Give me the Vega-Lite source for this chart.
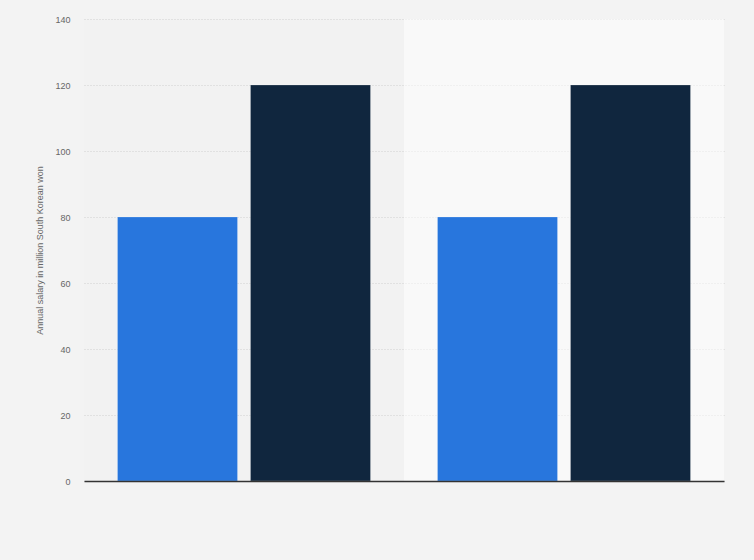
{
  "$schema": "https://vega.github.io/schema/vega-lite/v6.json",
  "width": 640,
  "height": 462,
  "autosize": {"type": "none"},
  "padding": {"left": 84, "top": 19, "right": 30, "bottom": 79},
  "background": "#f3f3f3",
  "config": {
    "view": {"stroke": null, "fill": "#f2f2f2"},
    "font": "Liberation Sans",
    "axis": {"labelFont": "Liberation Sans", "titleFont": "Liberation Sans"}
  },
  "data": {
    "values": [
      {"group": "A", "series": "1", "salary": 80},
      {"group": "A", "series": "2", "salary": 120},
      {"group": "B", "series": "1", "salary": 80},
      {"group": "B", "series": "2", "salary": 120}
    ]
  },
  "encoding": {
    "x": {
      "field": "group",
      "type": "nominal",
      "scale": {"paddingInner": 0, "paddingOuter": 0},
      "axis": {
        "title": null,
        "labels": false,
        "ticks": false,
        "domain": true,
        "domainColor": "#333333",
        "domainWidth": 1.5,
        "zindex": 1
      }
    }
  },
  "layer": [
    {
      "transform": [{"filter": "datum.group == 'B' && datum.series == '1'"}],
      "mark": {"type": "bar", "color": "#ffffff", "opacity": 0.5}
    },
    {
      "mark": {"type": "bar", "stroke": "#ffffff", "strokeOpacity": 0.35, "strokeWidth": 0.6},
      "encoding": {
        "xOffset": {
          "field": "series",
          "type": "nominal",
          "scale": {"paddingInner": 0.0977, "paddingOuter": 0.252}
        },
        "y": {
          "field": "salary",
          "type": "quantitative",
          "scale": {"domain": [0, 140]},
          "axis": {
            "title": "Annual salary in million South Korean won",
            "titleColor": "#666666",
            "titleFontSize": 9,
            "titleFontWeight": "normal",
            "titlePadding": 10,
            "values": [0, 20, 40, 60, 80, 100, 120, 140],
            "labelColor": "#666666",
            "labelFontSize": 9,
            "labelPadding": 14,
            "ticks": false,
            "domain": false,
            "grid": true,
            "gridColor": "#d0d0d0",
            "gridDash": [1, 2],
            "gridWidth": 1
          }
        },
        "color": {
          "field": "series",
          "type": "nominal",
          "scale": {"domain": ["1", "2"], "range": ["#2876dd", "#10263e"]},
          "legend": null
        }
      }
    }
  ]
}
